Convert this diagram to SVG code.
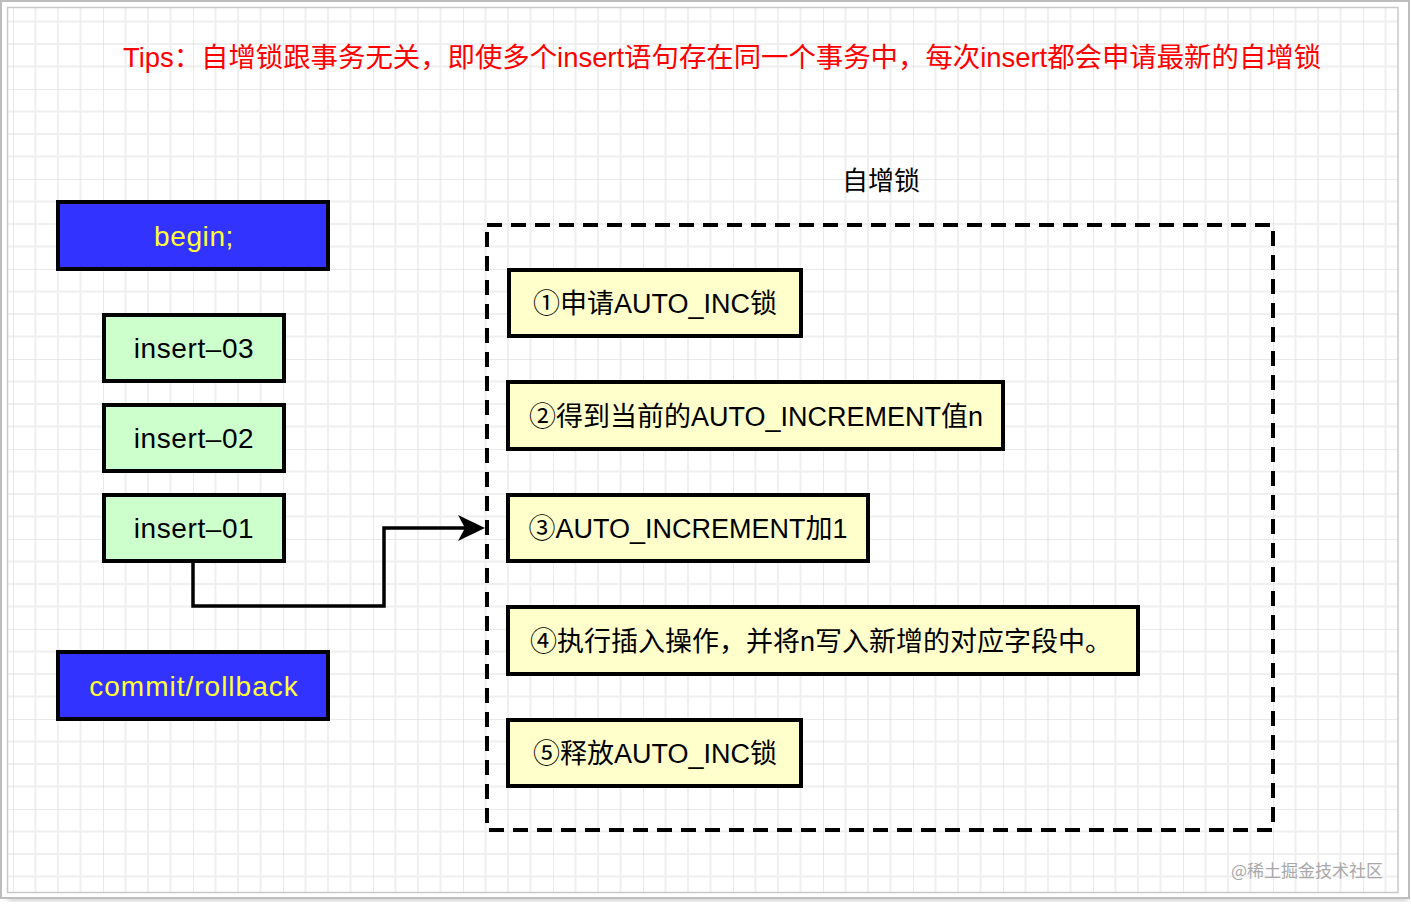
<svg xmlns="http://www.w3.org/2000/svg" width="1411" height="905" viewBox="0 0 1411 905">
  <defs>
    <pattern id="grid" patternUnits="userSpaceOnUse" x="13" y="-1" width="90" height="90">
      <path d="M22.5 0V90M45 0V90M67.5 0V90M0 22.5H90M0 45H90M0 67.5H90" stroke="#efefef" stroke-width="2" fill="none"/>
      <path d="M0 0V90M0 0H90" stroke="#d4d4d4" stroke-width="1" fill="none"/>
    </pattern>
    <clipPath id="inner"><rect x="7" y="7" width="1391" height="886"/></clipPath>
    <filter id="sh" x="-5%" y="-5%" width="110%" height="120%"><feGaussianBlur stdDeviation="2.5"/></filter>
    <marker id="arrow" markerUnits="userSpaceOnUse" viewBox="0 0 28 28" refX="20" refY="14" markerWidth="28" markerHeight="28" orient="auto">
      <path d="M27 14 L0 1 L7 14 L0 27 Z" fill="#000"/>
    </marker>
  </defs>
  <style>
    .lbl{font-family:"Liberation Sans","Noto Sans CJK SC",sans-serif;font-size:27px;text-anchor:middle}
    .lat{font-size:28px;letter-spacing:0.6px}
    .box{stroke:#000;stroke-width:4}
    .blue{fill:#3333ff}
    .green{fill:#ccffcc}
    .yel{fill:#ffffcc}
    .ytxt{fill:#ffff33}
    .btxt{fill:#000}
  </style>
  <rect x="0" y="0" width="1411" height="905" fill="#fff"/>
  <rect x="8" y="896" width="1400" height="5" fill="#999" opacity="0.5" filter="url(#sh)"/>
  <rect x="1" y="1" width="1408" height="897" fill="#fff" stroke="#bdbdbd" stroke-width="2"/>
  <rect x="7" y="7" width="1391" height="886" fill="#fff"/>
  <rect x="7" y="7" width="1391" height="886" fill="url(#grid)" clip-path="url(#inner)"/>
  <rect x="7.5" y="7.5" width="1390.5" height="885" fill="none" stroke="#c8c8c8" stroke-width="1.5"/>

  <g id="tips">
    <text class="lbl" x="722" y="67" style="font-size:27.4px" fill="#ff0000">Tips：自增锁跟事务无关，即使多个insert语句存在同一个事务中，每次insert都会申请最新的自增锁</text>
  </g>

  <g id="container">
    <rect x="487" y="225" width="786" height="605" fill="none" stroke="#000" stroke-width="4" stroke-dasharray="15 9"/>
    <text class="lbl" x="881" y="190" style="font-size:26px" fill="#000">自增锁</text>
  </g>

  <g id="begin">
    <rect class="box blue" x="58" y="202" width="270" height="67"/>
    <text class="lbl lat ytxt" x="194" y="246">begin;</text>
  </g>
  <g id="insert-03">
    <rect class="box green" x="104" y="315" width="180" height="66"/>
    <text class="lbl lat btxt" x="194" y="358">insert–03</text>
  </g>
  <g id="insert-02">
    <rect class="box green" x="104" y="405" width="180" height="66"/>
    <text class="lbl lat btxt" x="194" y="448">insert–02</text>
  </g>
  <g id="insert-01">
    <rect class="box green" x="104" y="495" width="180" height="66"/>
    <text class="lbl lat btxt" x="194" y="538">insert–01</text>
  </g>
  <g id="commit">
    <rect class="box blue" x="58" y="652" width="270" height="67"/>
    <text class="lbl lat ytxt" x="194" y="696" style="letter-spacing:1px">commit/rollback</text>
  </g>

  <g id="step1">
    <rect class="box yel" x="509" y="270" width="292" height="66"/>
    <text class="lbl btxt" x="655" y="313">①申请AUTO_INC锁</text>
  </g>
  <g id="step2">
    <rect class="box yel" x="508" y="382" width="495" height="67"/>
    <text class="lbl btxt" x="756" y="426">②得到当前的AUTO_INCREMENT值n</text>
  </g>
  <g id="step3">
    <rect class="box yel" x="508" y="495" width="360" height="66"/>
    <text class="lbl btxt" x="688" y="538">③AUTO_INCREMENT加1</text>
  </g>
  <g id="step4">
    <rect class="box yel" x="508" y="607" width="630" height="67"/>
    <text class="lbl btxt" x="821" y="651">④执行插入操作，并将n写入新增的对应字段中。</text>
  </g>
  <g id="step5">
    <rect class="box yel" x="508" y="720" width="293" height="66"/>
    <text class="lbl btxt" x="655" y="763">⑤释放AUTO_INC锁</text>
  </g>

  <g id="connectors">
    <path d="M193 562 V606 H384 V528 H478" fill="none" stroke="#000" stroke-width="3.5" marker-end="url(#arrow)"/>
  </g>

  <text x="1307" y="877" font-family="'Noto Sans CJK SC',sans-serif" font-size="17" fill="#a8a8a8" text-anchor="middle">@稀土掘金技术社区</text>
</svg>
